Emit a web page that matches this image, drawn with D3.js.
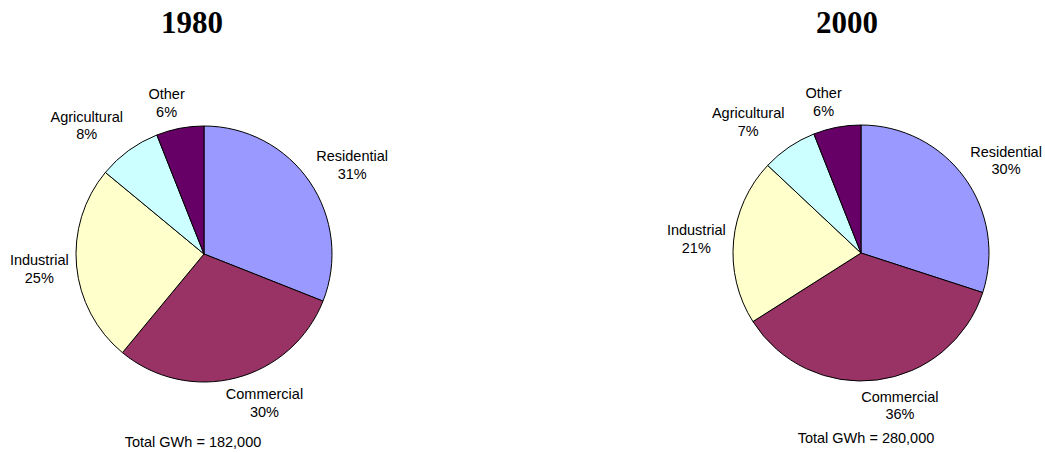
<!DOCTYPE html>
<html><head><meta charset="utf-8">
<script src="https://cdn.jsdelivr.net/npm/d3@7"></script>
<style>body{margin:0;background:#fff}svg{display:block}</style>
</head><body>
<svg id="c" width="1045" height="453"></svg>
<script>
const categories = ["Residential","Commercial","Industrial","Agricultural","Other"];
const years = ["1980","2000"];
const values1980 = [31,30,25,8,6];
const values2000 = [30,36,21,7,6];
const totals = ["182,000","280,000"];
const colors = ["#9999FF","#993366","#FFFFCC","#CCFFFF","#660066"];

// layout (not data)
const pieCenters = [[204,254],[861,253]];
const radius = 128;
const titleX = [192,847];
const totalX = [193,866];
const totalY = [447,443];
const labelNudge = [[6,-1.5],[17,1],[0,1.5],[-16,-3.5],[-8.5,1]];

const svg = d3.select("#c");
const seriesList = [values1980, values2000];

seriesList.forEach((vals, k) => {
  const [cx, cy] = pieCenters[k];
  const g = svg.append("g");
  g.append("text").attr("x", titleX[k]).attr("y", 33).attr("text-anchor","middle")
    .attr("font-family","'Liberation Serif','Times New Roman',serif").attr("font-weight","bold")
    .attr("font-size",31).text(years[k]);

  const pie = d3.pie().sort(null).value(d => d)(vals);
  const arc = d3.arc().innerRadius(0).outerRadius(radius);
  const pg = g.append("g").attr("transform",`translate(${cx},${cy})`);
  pg.selectAll("path").data(pie).join("path")
    .attr("d", arc).attr("fill",(d,i)=>colors[i])
    .attr("stroke","#000").attr("stroke-width",1);

  pie.forEach((d,i) => {
    const a = (d.startAngle + d.endAngle)/2;
    const s = Math.sin(a), c = Math.cos(a);
    const pr = radius + 8;
    const px = s*pr, py = -c*pr;
    const t = pg.append("text").attr("text-anchor","middle")
      .attr("font-family","'Liberation Sans',Arial,sans-serif").attr("font-size",14.5).attr("fill","#000");
    t.append("tspan").attr("x",0).attr("y",-4.75).text(categories[i]);
    t.append("tspan").attr("x",0).attr("y",13).text(vals[i] + "%");
    const w = t.node().getBBox().width;
    const h = 35;
    const lx = px + s*w/2 + labelNudge[i][0];
    const ly = py - c*h/2 + labelNudge[i][1];
    t.attr("transform",`translate(${lx},${ly})`);
  });

  g.append("text").attr("x", totalX[k]).attr("y", totalY[k]).attr("text-anchor","middle")
    .attr("font-family","'Liberation Sans',Arial,sans-serif").attr("font-size",14.5)
    .text("Total GWh = " + totals[k]);
});
</script>
</body></html>
